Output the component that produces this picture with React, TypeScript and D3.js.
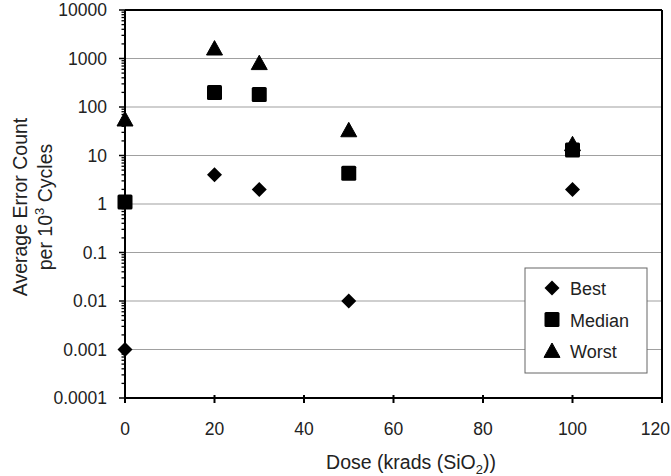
import React from "react";
import * as d3 from "d3";

const doses = [0, 20, 30, 50, 100];
const best = [0.001, 4, 2, 0.01, 2];
const median = [1.1, 200, 180, 4.3, 13];
const worst = [55, 1600, 800, 33, 17];
const seriesNames = ["Best", "Median", "Worst"];
const xTicks = [0, 20, 40, 60, 80, 100, 120];
const yTicks = [0.0001, 0.001, 0.01, 0.1, 1, 10, 100, 1000, 10000];
const yTickLabels = ["0.0001", "0.001", "0.01", "0.1", "1", "10", "100", "1000", "10000"];

const W = 671;
const H = 476;
const left = 125;
const right = 662;
const top = 10;
const bottom = 398;
const FONT = "'Liberation Sans', Arial, sans-serif";

function Marker({ kind, x, y }: { kind: string; x: number; y: number }) {
  if (kind === "Best") {
    const s = 7.5;
    return <path d={`M${x},${y - s}L${x + s},${y}L${x},${y + s}L${x - s},${y}Z`} fill="#000" />;
  }
  if (kind === "Median") {
    const s = 7.5;
    return <rect x={x - s} y={y - s} width={2 * s} height={2 * s} rx={1.5} fill="#000" />;
  }
  const s = 8;
  return <path d={`M${x},${y - s}L${x + s},${y + s * 0.8}L${x - s},${y + s * 0.8}Z`} fill="#000" strokeLinejoin="round" stroke="#000" strokeWidth={1} />;
}

export default function App() {
  const x = d3.scaleLinear().domain([0, 120]).range([left, right]);
  const y = d3.scaleLog().domain([0.0001, 10000]).range([bottom, top]);
  const data = [best, median, worst];

  const minor: number[] = [];
  for (let e = -4; e < 4; e++) {
    for (let m = 2; m <= 9; m++) minor.push(m * Math.pow(10, e));
  }

  return (
    <svg width={W} height={H} style={{ position: "absolute", left: 0, top: 0, background: "#fff" }} fontFamily={FONT}>
      <rect x={0} y={0} width={W} height={H} fill="#fff" />
      {yTicks.slice(1, -1).map((t) => (
        <line key={t} x1={left} x2={right} y1={y(t)} y2={y(t)} stroke="#a0a0a0" strokeWidth={1.2} />
      ))}
      {/* axes */}
      <line x1={left} x2={right} y1={top} y2={top} stroke="#000" strokeWidth={2} />
      <line x1={right} x2={right} y1={top} y2={bottom} stroke="#000" strokeWidth={2} />
      <line x1={left} x2={left} y1={top} y2={bottom} stroke="#000" strokeWidth={2} />
      <line x1={left} x2={right} y1={bottom} y2={bottom} stroke="#000" strokeWidth={2} />
      {minor.map((t) => (
        <line key={"m" + t} x1={left - 3.5} x2={left} y1={y(t)} y2={y(t)} stroke="#000" strokeWidth={1.3} />
      ))}
      {yTicks.map((t, i) => (
        <g key={"y" + t}>
          <line x1={left - 6} x2={left} y1={y(t)} y2={y(t)} stroke="#000" strokeWidth={1.5} />
          <text x={107} y={y(t)} dy="0.35em" textAnchor="end" fontSize={17.5} fill="#222">
            {yTickLabels[i]}
          </text>
        </g>
      ))}
      {xTicks.map((t, i) => (
        <g key={"x" + t}>
          <line x1={x(t)} x2={x(t)} y1={bottom - 3} y2={bottom + 5} stroke="#000" strokeWidth={2} />
          <text
            x={i === xTicks.length - 1 ? 670 : x(t)}
            y={435}
            textAnchor={i === xTicks.length - 1 ? "end" : "middle"}
            fontSize={17.5}
            fill="#222"
          >
            {t}
          </text>
        </g>
      ))}
      {/* markers */}
      {data.map((vals, si) =>
        vals.map((v, i) => <Marker key={si + "-" + i} kind={seriesNames[si]} x={x(doses[i])} y={y(v)} />)
      )}
      {/* legend */}
      <rect x={525} y={268} width={122} height={105} fill="#fff" stroke="#666" strokeWidth={1} />
      {seriesNames.map((n, i) => (
        <g key={n}>
          <Marker kind={n} x={552} y={288 + i * 31.5} />
          <text x={570} y={289 + i * 31.5} dy="0.35em" fontSize={18} fill="#222">
            {n}
          </text>
        </g>
      ))}
      {/* axis titles */}
      <text x={411} y={469} textAnchor="middle" fontSize={19.5} fill="#222">
        Dose (krads (SiO<tspan fontSize={13} dy={5}>2</tspan><tspan dy={-5}>))</tspan>
      </text>
      <g transform="translate(27,207) rotate(-90)">
        <text x={0} y={0} textAnchor="middle" fontSize={19.5} fill="#222">Average Error Count</text>
        <text x={0} y={25} textAnchor="middle" fontSize={19.5} fill="#222">
          per 10<tspan fontSize={13} dy={-8}>3</tspan><tspan dy={8}> Cycles</tspan>
        </text>
      </g>
    </svg>
  );
}
